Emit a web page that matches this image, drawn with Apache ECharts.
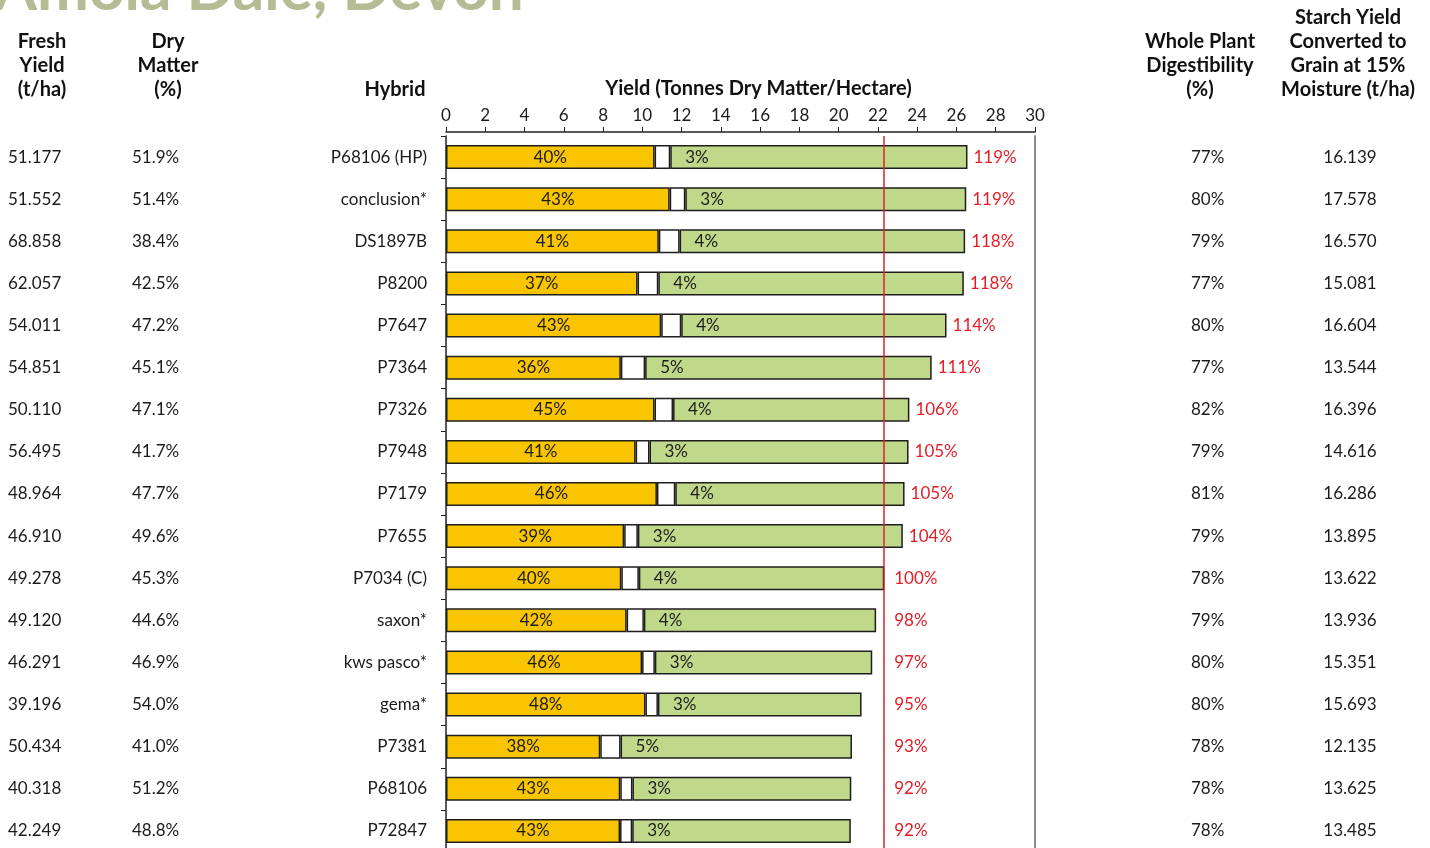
<!DOCTYPE html>
<html>
<head>
<meta charset="utf-8">
<script src="https://cdn.jsdelivr.net/npm/echarts@6/dist/echarts.min.js"></script>
<style>
  html, body { margin: 0; padding: 0; background: #fff; overflow: hidden; }
  /* the table runs past the bottom edge of the shot */
  #chart { width: 1430px; height: 870px; }
</style>
</head>
<body>
<div id="chart"></div>
<script>
// trial data
var hybrids = ['P68106 (HP)', 'conclusion*', 'DS1897B', 'P8200', 'P7647', 'P7364', 'P7326', 'P7948',
    'P7179', 'P7655', 'P7034 (C)', 'saxon*', 'kws pasco*', 'gema*', 'P7381', 'P68106', 'P72847'];
var freshYield = ['51.177', '51.552', '68.858', '62.057', '54.011', '54.851', '50.110', '56.495',
    '48.964', '46.910', '49.278', '49.120', '46.291', '39.196', '50.434', '40.318', '42.249'];
var dryMatter = [51.9, 51.4, 38.4, 42.5, 47.2, 45.1, 47.1, 41.7, 47.7, 49.6, 45.3, 44.6, 46.9, 54.0, 41.0, 51.2, 48.8];
var starchPct = [40, 43, 41, 37, 43, 36, 45, 41, 46, 39, 40, 42, 46, 48, 38, 43, 43];
var sugarPct = [3, 3, 4, 4, 4, 5, 4, 3, 4, 3, 4, 4, 3, 3, 5, 3, 3];
var relYield = [119, 119, 118, 118, 114, 111, 106, 105, 105, 104, 100, 98, 97, 95, 93, 92, 92];
var digestibility = [77, 80, 79, 77, 80, 77, 82, 79, 81, 79, 78, 79, 80, 80, 78, 78, 78];
var starchYield = ['16.139', '17.578', '16.570', '15.081', '16.604', '13.544', '16.396', '14.616',
    '16.286', '13.895', '13.622', '13.936', '15.351', '15.693', '12.135', '13.625', '13.485'];
var xTicks = { min: 0, max: 30, interval: 2 };
var controlName = 'P7034 (C)';

var FONT = 'Lato, "Noto Sans", sans-serif';
var INK = '#1b1b1b';

// dry matter yield = fresh yield x DM%
var totalDM = freshYield.map(function (f, i) { return +f * dryMatter[i] / 100; });
var starchPart = totalDM.map(function (t, i) { return t * starchPct[i] / 100; });
var sugarPart = totalDM.map(function (t, i) { return t * sugarPct[i] / 100; });
var restPart = totalDM.map(function (t, i) { return t - starchPart[i] - sugarPart[i]; });
var controlYield = totalDM[hybrids.indexOf(controlName)];
// relative yield labels never sit left of the control line
var labelPos = totalDM.map(function (t) { return Math.max(t, controlYield + 0.2); });

var myChart = echarts.init(document.getElementById('chart'));

function colAxis(data, position, offset, align) {
    return {
        type: 'category',
        gridIndex: 0,
        position: position,
        offset: offset,
        inverse: true,
        data: data,
        axisLine: { show: false },
        axisTick: { show: false },
        splitLine: { show: false },
        axisLabel: {
            margin: 0,
            align: align,
            fontFamily: FONT,
            fontSize: 17,
            color: INK
        }
    };
}

function header(text, x, y) {
    return {
        type: 'text',
        x: x,
        y: y,
        style: {
            text: text,
            fontFamily: FONT,
            fontWeight: 'bold',
            fontSize: 20,
            lineHeight: 24,
            fill: '#111',
            textAlign: 'center',
            textVerticalAlign: 'top'
        }
    };
}

var option = {
    animation: false,
    textStyle: { fontFamily: FONT },
    grid: {
        left: 446,
        right: 395,
        top: 136,
        height: 716
    },
    graphic: [
        {
            type: 'text',
            x: -6,
            y: 21,
            style: {
                text: 'Amola Dale, Devon',
                fontFamily: FONT,
                fontWeight: 'bold',
                fontSize: 62,
                fill: '#b5bc94',
                textVerticalAlign: 'bottom'
            }
        },
        header('Fresh\nYield\n(t/ha)', 42, 30),
        header('Dry\nMatter\n(%)', 168, 30),
        header('Hybrid', 395, 78),
        header('Whole Plant\nDigestibility\n(%)', 1200, 30),
        header('Starch Yield\nConverted to\nGrain at 15%\nMoisture (t/ha)', 1348, 6)
    ],
    xAxis: {
        type: 'value',
        position: 'top',
        offset: 4,
        min: xTicks.min,
        max: xTicks.max,
        interval: xTicks.interval,
        name: 'Yield (Tonnes Dry Matter/Hectare)',
        nameLocation: 'middle',
        nameGap: 33,
        nameMoveOverlap: false,
        nameTextStyle: {
            fontFamily: FONT,
            fontWeight: 'bold',
            fontSize: 20,
            color: '#111',
            padding: [0, 0, 0, 36]
        },
        axisLine: { show: true, lineStyle: { color: '#222', width: 1.5 } },
        axisTick: { show: true, length: 5, lineStyle: { color: '#222' } },
        axisLabel: { fontFamily: FONT, fontSize: 17, color: INK, margin: 8 },
        splitLine: { show: false }
    },
    yAxis: [
        {
            type: 'category',
            inverse: true,
            data: hybrids,
            axisLine: { show: true, lineStyle: { color: '#222', width: 1.5 } },
            axisTick: { show: true, length: 5, lineStyle: { color: '#222' } },
            axisLabel: { fontFamily: FONT, fontSize: 17, color: INK, margin: 19 }
        },
        colAxis(freshYield, 'left', 438, 'left'),
        colAxis(dryMatter.map(function (v) { return v.toFixed(1) + '%'; }), 'left', 314, 'left'),
        colAxis(digestibility.map(function (v) { return v + '%'; }), 'right', 156, 'left'),
        colAxis(starchYield, 'right', 315, 'center'),
        // right frame line
        {
            type: 'category',
            position: 'right',
            inverse: true,
            data: hybrids,
            axisLine: { show: true, lineStyle: { color: '#8c8c8c', width: 2 } },
            axisTick: { show: false },
            axisLabel: { show: false }
        }
    ],
    series: [
        {
            name: 'Starch',
            type: 'bar',
            stack: 'dm',
            barWidth: 24,
            barGap: '-100%',
            data: starchPart,
            itemStyle: { color: '#f9c400', borderColor: '#1e1e1e', borderWidth: 1.5 },
            label: {
                show: true,
                position: 'inside',
                fontFamily: FONT,
                fontSize: 17,
                color: INK,
                formatter: function (p) { return starchPct[p.dataIndex] + '%'; }
            }
        },
        {
            name: 'Sugar',
            type: 'bar',
            stack: 'dm',
            barWidth: 24,
            barGap: '-100%',
            data: sugarPart,
            itemStyle: { color: '#ffffff', borderColor: '#1e1e1e', borderWidth: 1.5 }
        },
        {
            name: 'Other',
            type: 'bar',
            stack: 'dm',
            barWidth: 24,
            barGap: '-100%',
            data: restPart,
            itemStyle: { color: '#c0d88a', borderColor: '#1e1e1e', borderWidth: 1.5 },
            label: {
                show: true,
                position: 'insideLeft',
                distance: 15,
                fontFamily: FONT,
                fontSize: 17,
                color: INK,
                formatter: function (p) { return sugarPct[p.dataIndex] + '%'; }
            },
            markLine: {
                silent: true,
                symbol: 'none',
                label: { show: false },
                lineStyle: { color: '#e0202a', width: 1.5, type: 'solid' },
                data: [{ xAxis: controlYield }]
            }
        },
        {
            // relative yield label at the bar end
            name: 'Relative',
            type: 'bar',
            barWidth: 24,
            barGap: '-100%',
            data: labelPos,
            silent: true,
            z: 1,
            itemStyle: { color: 'rgba(0,0,0,0)' },
            label: {
                show: true,
                position: 'right',
                distance: 6,
                fontFamily: FONT,
                fontSize: 17,
                color: '#e31e26',
                formatter: function (p) { return relYield[p.dataIndex] + '%'; }
            }
        }
    ]
};

option && myChart.setOption(option);
</script>
</body>
</html>
